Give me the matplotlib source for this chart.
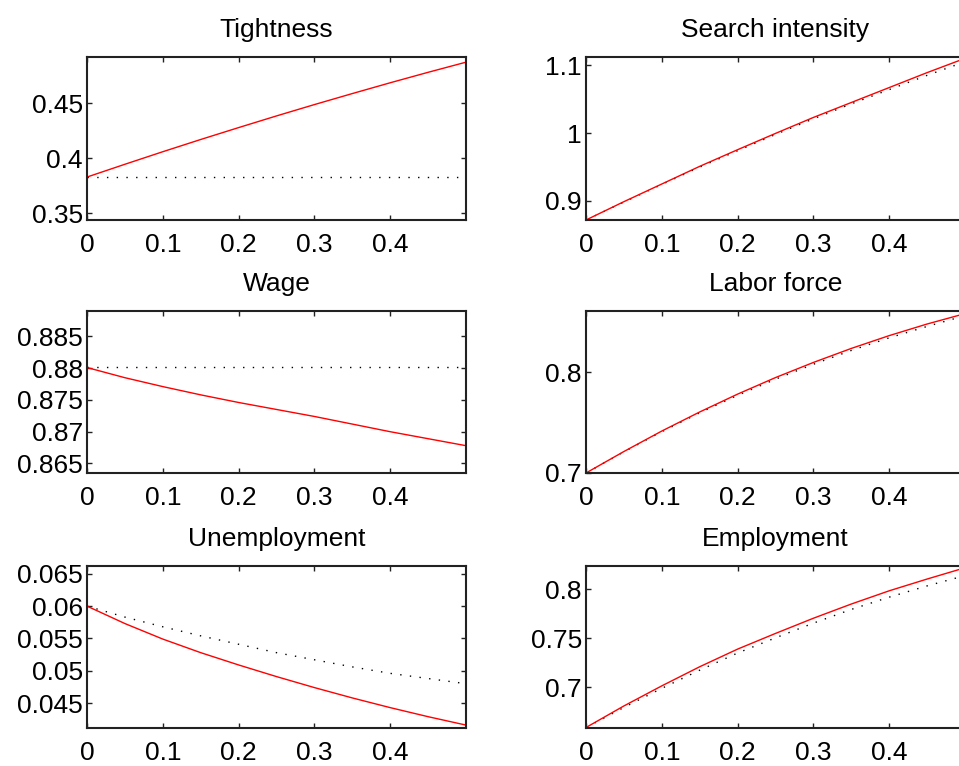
import matplotlib
matplotlib.use("Agg")
import matplotlib.pyplot as plt
from matplotlib.ticker import FuncFormatter

plt.rcParams['font.family'] = ['Liberation Sans', 'DejaVu Sans']

x = [0.0, 0.05, 0.1, 0.15, 0.2, 0.25, 0.3, 0.35, 0.4, 0.45, 0.5]

titles = ["Tightness", "Search intensity", "Wage", "Labor force", "Unemployment", "Employment"]

tight_red = [0.383, 0.3946, 0.406, 0.4171, 0.4279, 0.4385, 0.4488, 0.4588, 0.4686, 0.4781, 0.4873]
tight_dot = [0.383, 0.383, 0.383, 0.383, 0.383, 0.383, 0.383, 0.383, 0.383, 0.383, 0.383]

search_red = [0.872, 0.899, 0.925, 0.951, 0.9755, 0.9995, 1.023, 1.045, 1.067, 1.089, 1.110]
search_dot = [0.872, 0.8985, 0.9245, 0.950, 0.974, 0.998, 1.021, 1.043, 1.064, 1.085, 1.105]

wage_red = [0.8801, 0.8785, 0.8771, 0.8758, 0.8746, 0.8735, 0.8724, 0.8712, 0.8700, 0.8689, 0.8678]
wage_dot = [0.8802, 0.8802, 0.8802, 0.8802, 0.8802, 0.8802, 0.8802, 0.8802, 0.8802, 0.8802, 0.8802]

labor_red = [0.700, 0.7213, 0.7416, 0.7605, 0.7782, 0.7946, 0.8096, 0.8235, 0.8362, 0.8477, 0.858]
labor_dot = [0.700, 0.721, 0.741, 0.7597, 0.777, 0.793, 0.8078, 0.8215, 0.834, 0.8453, 0.856]

unemp_red = [0.0600, 0.0573, 0.0549, 0.0528, 0.0509, 0.0491, 0.0474, 0.0458, 0.0443, 0.0429, 0.0416]
unemp_dot = [0.0600, 0.0583, 0.0568, 0.0554, 0.0541, 0.0528, 0.0517, 0.0506, 0.0496, 0.0488, 0.0480]

emp_red = [0.659, 0.681, 0.7015, 0.721, 0.739, 0.755, 0.7705, 0.785, 0.7985, 0.8105, 0.822]
emp_dot = [0.659, 0.6795, 0.699, 0.7175, 0.735, 0.7505, 0.7655, 0.7795, 0.792, 0.8035, 0.814]

xticks = [0, 0.1, 0.2, 0.3, 0.4]

panels = [
    (tight_red, tight_dot, (0.344, 0.492), [0.35, 0.40, 0.45]),
    (search_red, search_dot, (0.872, 1.112), [0.9, 1.0, 1.1]),
    (wage_red, wage_dot, (0.8635, 0.889), [0.865, 0.870, 0.875, 0.880, 0.885]),
    (labor_red, labor_dot, (0.700, 0.8606), [0.7, 0.8]),
    (unemp_red, unemp_dot, (0.04115, 0.0662), [0.045, 0.050, 0.055, 0.060, 0.065]),
    (emp_red, emp_dot, (0.6585, 0.8238), [0.70, 0.75, 0.80]),
]

W, H = 959, 766
fig = plt.figure(figsize=(W / 100, H / 100), dpi=100)
fig.patch.set_facecolor('white')

col_x = [87, 586]
row_top = [57, 311, 566]
row_h = [163, 162, 162]
ax_w = 379

fmt = FuncFormatter(lambda v, p: ('%g' % round(v, 6)))

for i, (red, dot, ylim, yt) in enumerate(panels):
    r, c = divmod(i, 2)
    left = col_x[c] / W
    bottom = 1 - (row_top[r] + row_h[r]) / H
    ax = fig.add_axes([left, bottom, ax_w / W, row_h[r] / H])
    ax.plot(x, dot, color='black', linewidth=1.0, linestyle=(0, (1, 6)))
    ax.plot(x, red, color='#ff0000', linewidth=1.0)
    ax.set_xlim(0, 0.5)
    ax.set_ylim(*ylim)
    ax.set_xticks(xticks)
    ax.set_yticks(yt)
    ax.xaxis.set_major_formatter(fmt)
    ax.yaxis.set_major_formatter(fmt)
    ax.tick_params(direction='in', top=True, right=True, length=3.5, width=1,
                   labelsize=19, color='#222222', labelcolor='black')
    ax.tick_params(axis='x', pad=9.5)
    ax.tick_params(axis='y', pad=3)
    for s in ax.spines.values():
        s.set_linewidth(1.5)
        s.set_color('#222222')
    ax.set_title(titles[i], fontsize=19, pad=14.5)

fig.savefig('out.png', dpi=100)
